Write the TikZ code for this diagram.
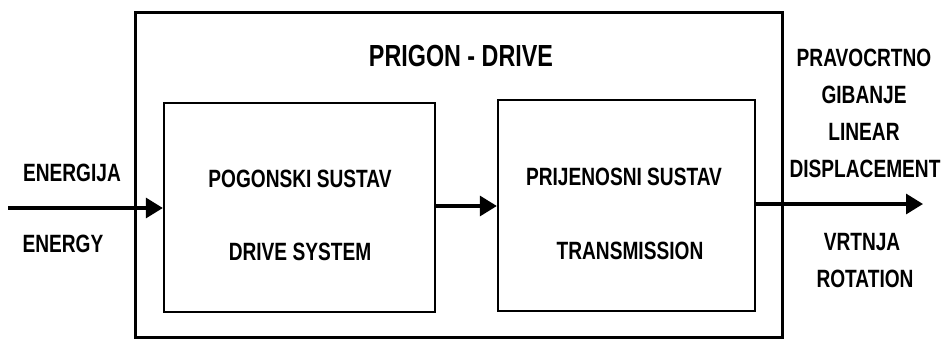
\documentclass[tikz,border=0pt]{standalone}
\usepackage{fontspec}
\setmainfont{Liberation Sans}[FakeStretch=0.765]
\usetikzlibrary{arrows.meta}
\begin{document}
\begin{tikzpicture}[x=1pt,y=-1pt,
  lbl/.style={font=\fontsize{25}{29}\selectfont\bfseries, inner sep=0pt, text height=17.9pt, text depth=0pt, anchor=center},
  ttl/.style={font=\fontsize{30.5}{34}\selectfont\bfseries, inner sep=0pt, text height=21.8pt, text depth=0pt, anchor=center},
  blk/.style={draw, line width=2.3pt, inner sep=0pt},
  arr/.style={line width=3.2pt, -{Triangle[length=17pt,width=20pt]}}]
\useasboundingbox (0,0) rectangle (944,340);
\draw[line width=3pt] (135,12) rectangle (782,337);
\node[blk, minimum width=271pt, minimum height=209pt] (drv) at (299.5,207.5) {};
\node[blk, minimum width=257pt, minimum height=211pt] (trn) at (626.5,205.5) {};
\coordinate (in) at (8,208);
\coordinate (out) at (923,204);
\draw[arr] (in) -- (drv.west |- in);
\draw[arr] (drv.east |- 0,206) -- (trn.west |- 0,206);
\draw[arr] (trn.east |- out) -- (out);
\node[ttl] (t) at (461,56) {PRIGON - DRIVE};
\node[lbl] (e1) at (72,173) {ENERGIJA};
\node[lbl] (e2) at (63,244) {ENERGY};
\node[lbl] (d1) at (300,178.5) {POGONSKI SUSTAV};
\node[lbl] (d2) at (300,252) {DRIVE SYSTEM};
\node[lbl] (p1) at (624,177) {PRIJENOSNI SUSTAV};
\node[lbl] (p2) at (630,251) {TRANSMISSION};
\node[lbl] (r1) at (864,58) {PRAVOCRTNO};
\node[lbl] (r2) at (864,95) {GIBANJE};
\node[lbl] (r3) at (864,132) {LINEAR};
\node[lbl] (r4) at (865,169) {DISPLACEMENT};
\node[lbl] (r5) at (862,242) {VRTNJA};
\node[lbl] (r6) at (865,279) {ROTATION};
\end{tikzpicture}
\end{document}
